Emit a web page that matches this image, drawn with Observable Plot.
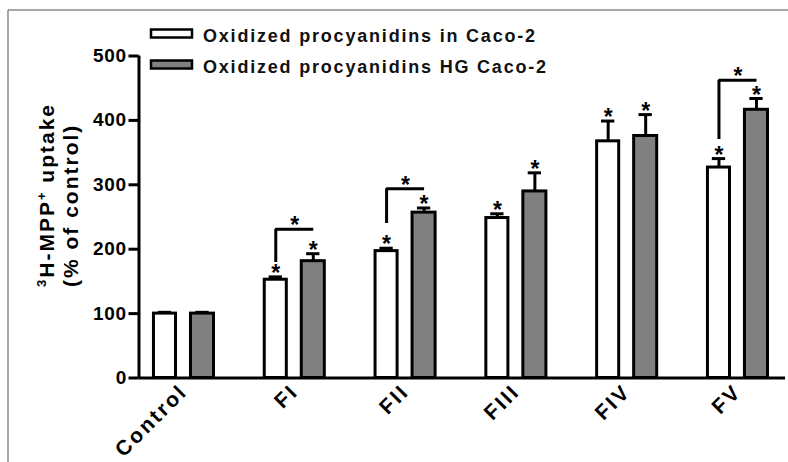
<!DOCTYPE html>
<html>
<head>
<meta charset="utf-8">
<script src="https://cdn.jsdelivr.net/npm/d3@7"></script>
<script src="https://cdn.jsdelivr.net/npm/@observablehq/plot@0.6"></script>
<style>
  html, body { margin: 0; padding: 0; background: white; }
  #chart { width: 788px; height: 462px; }
  g[aria-label="x-axis tick label"] text { letter-spacing: 2.5px; }
  g[aria-label="y-axis tick label"] text { letter-spacing: 0.8px; }
</style>
</head>
<body>
<div id="chart"></div>
<script>
// ---- data ----
const categories = ["Control", "FI", "FII", "FIII", "FIV", "FV"];
const seriesNames = ["Oxidized procyanidins in Caco-2", "Oxidized procyanidins HG Caco-2"];
const caco2Mean   = [100, 152.6, 197, 248.4, 367.5, 326.8];
const caco2ErrTop = [102, 157, 201.5, 255, 399, 340.7];
const hgMean      = [100, 181.4, 256.8, 289.7, 375.8, 416.5];
const hgErrTop    = [102, 193, 264, 318.6, 409, 434];
const caco2Star   = [false, true, true, true, true, true];
const hgStar      = [false, true, true, true, true, true];
const bracketCats = ["FI", "FII", "FV"];
const bracketLow  = [180, 240.6, 371.2];
const bracketHigh = [231, 294, 462.4];
const yTicks = [0, 100, 200, 300, 400, 500];

// ---- layout (in x-scale units, 1 unit = one category step) ----
const xMin = -0.406, xMax = 5.429;
const barOff = {0: [-0.271, -0.072], 1: [0.063, 0.271]};
const center = s => (barOff[s][0] + barOff[s][1]) / 2;
const capHalf = 0.06;

const rows = [];
categories.forEach((c, i) => {
  rows.push({cat: c, i, s: 0, series: seriesNames[0], value: caco2Mean[i], err: caco2ErrTop[i], star: caco2Star[i]});
  rows.push({cat: c, i, s: 1, series: seriesNames[1], value: hgMean[i], err: hgErrTop[i], star: hgStar[i]});
});
const bracketPts = [];
const bracketStars = [];
bracketCats.forEach((c, k) => {
  const i = categories.indexOf(c);
  bracketPts.push({b: c, x: i + center(0), y: bracketLow[k]});
  bracketPts.push({b: c, x: i + center(0), y: bracketHigh[k]});
  bracketPts.push({b: c, x: i + center(1), y: bracketHigh[k]});
  bracketStars.push({x: i, y: bracketHigh[k]});
});

const font = "'Liberation Sans', Arial, Helvetica, sans-serif";

const chart = Plot.plot({
  width: 788,
  height: 462,
  marginLeft: 138.5,
  marginRight: 3,
  marginTop: 55.5,
  marginBottom: 84.5,
  style: {fontFamily: font, background: "white", color: "black"},
  x: {domain: [xMin, xMax], axis: null},
  y: {domain: [0, 500], axis: null},
  color: {domain: seriesNames, range: ["white", "#808080"]},
  marks: [
    Plot.rectY(rows, {
      x1: d => d.i + barOff[d.s][0], x2: d => d.i + barOff[d.s][1],
      y1: 0, y2: "value", fill: "series", stroke: "black", strokeWidth: 3
    }),
    Plot.ruleX(rows, {x: d => d.i + center(d.s), y1: "value", y2: "err", stroke: "black", strokeWidth: 3}),
    Plot.ruleY(rows, {y: "err", x1: d => d.i + center(d.s) - capHalf, x2: d => d.i + center(d.s) + capHalf, stroke: "black", strokeWidth: 3}),
    Plot.text(rows.filter(d => d.star), {
      x: d => d.i + center(d.s), y: "err", text: () => "*",
      lineAnchor: "bottom", dy: 4, fontSize: 23, fontWeight: "bold", fill: "black"
    }),
    Plot.line(bracketPts, {x: "x", y: "y", z: "b", stroke: "black", strokeWidth: 3, strokeLinejoin: "miter", strokeLinecap: "butt"}),
    Plot.text(bracketStars, {x: "x", y: "y", text: () => "*", lineAnchor: "bottom", dy: 4, fontSize: 23, fontWeight: "bold", fill: "black"}),
    Plot.ruleY([0], {stroke: "black", strokeWidth: 3}),
    Plot.ruleX([xMin], {y1: 0, y2: 500, stroke: "black", strokeWidth: 3}),
    Plot.axisY({ticks: yTicks, tickSize: 10, tickPadding: 2, strokeWidth: 3, stroke: "black",
      fontSize: 19, fontWeight: "bold", label: null, tickFormat: d => String(d)}),
    Plot.axisX({ticks: d3.range(categories.length), tickFormat: i => categories[i],
      tickSize: 0, tickPadding: 10, tickRotate: -45, fontSize: 21, fontWeight: "bold", label: null})
  ]
});
document.getElementById("chart").appendChild(chart);

// ---- decorations: frame border, legend, y-axis title ----
const svg = d3.select(chart);
svg.append("line").attr("x1", 8).attr("x2", 788).attr("y1", 10).attr("y2", 10)
  .attr("stroke", "#8a8a8a").attr("stroke-width", 1.5);
svg.append("line").attr("x1", 8).attr("x2", 8).attr("y1", 10).attr("y2", 462)
  .attr("stroke", "#8a8a8a").attr("stroke-width", 1.5);

const legend = svg.append("g").attr("font-family", font).attr("font-weight", "bold")
  .attr("text-anchor", "start");
seriesNames.forEach((name, k) => {
  const y0 = 29.5 + k * 31;
  legend.append("rect").attr("x", 151).attr("y", y0).attr("width", 41).attr("height", 8)
    .attr("fill", k === 0 ? "white" : "#808080").attr("stroke", "black").attr("stroke-width", 2.5);
  legend.append("text").attr("x", 203).attr("y", y0 + 12).attr("font-size", 18)
    .attr("letter-spacing", "1.8px").attr("fill", "#111").text(name);
});

const title = svg.append("text").attr("font-family", font).attr("font-weight", "bold")
  .attr("font-size", 21).attr("letter-spacing", "2px").attr("fill", "black")
  .attr("transform", "translate(54,287) rotate(-90)").attr("text-anchor", "start");
title.append("tspan").attr("font-size", 13).attr("dy", -8).text("3");
title.append("tspan").attr("dy", 8).text("H-MPP");
title.append("tspan").attr("font-size", 13).attr("dy", -8).text("+");
title.append("tspan").attr("dy", 8).text(" uptake");
svg.append("text").attr("font-family", font).attr("font-weight", "bold")
  .attr("font-size", 21).attr("letter-spacing", "2px").attr("fill", "black")
  .attr("transform", "translate(78,287) rotate(-90)").attr("text-anchor", "start")
  .text("(% of control)");
</script>
</body>
</html>
